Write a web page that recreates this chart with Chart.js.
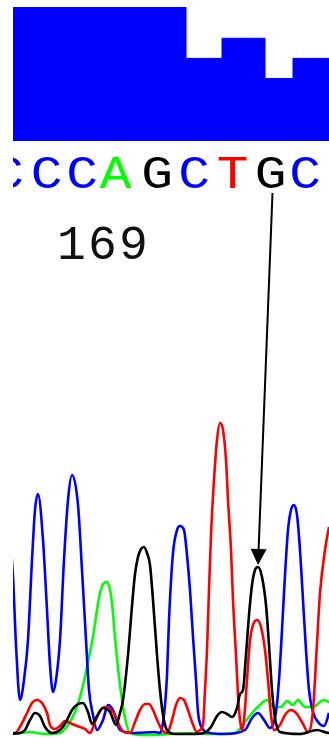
<!DOCTYPE html>
<html>
<head>
<meta charset="utf-8">
<script src="https://cdn.jsdelivr.net/npm/chart.js@4/dist/chart.umd.min.js"></script>
<style>
  html, body { margin: 0; padding: 0; background: #fff; }
  #wrap { position: relative; width: 329px; height: 738px; overflow: hidden; }
  #trace, #qual { position: absolute; left: 0; top: 0; }
</style>
</head>
<body>
<div id="wrap">
  <canvas id="trace" width="329" height="738"></canvas>
  <canvas id="qual" width="329" height="141"></canvas>
</div>
<script>
// base calls and where they sit on the scan axis
const baseCalls = ['C', 'C', 'C', 'A', 'G', 'C', 'T', 'G', 'C'];
const basePositions = [8, 46.5, 82, 115.5, 157, 194, 232.5, 270.5, 305];
const positionLabel = '169';
const positionLabelAt = 102.5;
const arrowBase = 7; // the G pointed at
const arrowPeakScan = 258;

// quality bars (step starts on the scan axis)
const qualStart = [13, 186, 222, 265, 293];
const qualValue = [60, 37, 46, 28, 37];
const scanEnd = 329;

// trace channels: scan position / signal
const scanA = [0, 20, 30, 45, 60, 68, 75, 80, 85, 89, 93, 97, 100, 104, 107, 110, 112, 115, 118, 122, 125, 130, 145, 170, 190, 210, 235, 245, 252, 260, 267, 274, 281, 287, 293, 298, 305, 313, 320, 324, 329, 335];
const sigA = [1, 3, 4, 2, 3, 11, 24, 39, 59, 79, 99, 126, 143, 153, 154, 146, 133, 99, 68, 36, 18, 3, 1, 2, 3, 2, 3, 14, 23, 31, 36, 29, 29, 35, 31, 36, 29, 29, 34, 36, 34, 34];

const scanC = [-15, -8, 2, 8, 13, 16, 20, 24, 28, 32, 35, 38, 43, 47, 50, 53, 56, 60, 64, 68, 72, 78, 82, 86, 89, 93, 97, 103, 108, 113, 120, 135, 155, 160, 164, 167, 169, 173, 177, 180, 184, 187, 190, 193, 196, 198, 202, 210, 225, 245, 252, 258, 264, 270, 276, 279, 282, 285, 288, 291, 294, 297, 300, 303, 306, 309, 313, 318, 324, 329, 335];
const sigC = [16, 116, 241, 216, 159, 91, 36, 56, 96, 176, 226, 242, 196, 126, 71, 44, 56, 96, 176, 236, 261, 231, 166, 96, 46, 21, 6, 16, 31, 26, 6, 3, 4, 3, 21, 61, 116, 183, 206, 210, 206, 181, 146, 99, 56, 24, 8, 3, 2, 6, 18, 23, 16, 8, 24, 56, 106, 161, 206, 226, 231, 221, 186, 136, 86, 46, 24, 14, 10, 23, 46];

const scanG = [0, 20, 25, 30, 35, 40, 45, 52, 60, 66, 72, 78, 83, 88, 92, 97, 103, 110, 116, 120, 123, 128, 132, 135, 138, 141, 144, 147, 150, 153, 157, 160, 163, 167, 175, 195, 204, 211, 217, 222, 227, 232, 237, 240, 243, 246, 249, 252, 255, 258, 262, 266, 269, 272, 275, 280, 300, 317, 329, 335];
const sigG = [2, 3, 6, 16, 23, 20, 9, 3, 6, 14, 26, 32, 33, 24, 12, 20, 28, 24, 11, 23, 36, 81, 130, 162, 179, 187, 189, 183, 171, 136, 81, 46, 21, 6, 2, 2, 3, 9, 20, 24, 22, 19, 28, 42, 46, 81, 121, 151, 166, 169, 159, 131, 91, 46, 18, 4, 2, 6, 3, 3];

const scanT = [0, 10, 15, 21, 27, 32, 37, 42, 47, 50, 55, 60, 65, 72, 80, 85, 90, 95, 100, 105, 110, 115, 120, 124, 130, 135, 140, 145, 149, 153, 158, 162, 167, 172, 176, 180, 184, 188, 192, 197, 200, 203, 205, 207, 209, 211, 214, 217, 220, 223, 226, 228, 231, 233, 236, 238, 240, 242, 244, 247, 250, 253, 257, 261, 265, 268, 271, 274, 280, 285, 291, 297, 303, 308, 313, 317, 320, 325, 329, 334];
const sigT = [2, 3, 3, 11, 23, 33, 36, 33, 23, 11, 7, 10, 15, 12, 9, 7, 3, 14, 25, 29, 27, 21, 9, 4, 3, 14, 26, 32, 32, 26, 14, 6, 3, 16, 31, 38, 36, 26, 14, 4, 6, 11, 46, 86, 146, 201, 256, 296, 313, 306, 276, 236, 186, 136, 81, 41, 16, 6, 16, 56, 96, 111, 116, 109, 86, 56, 21, 6, 11, 21, 26, 22, 12, 4, 26, 93, 143, 186, 209, 231];

const channelColors = { A: '#00ff00', C: '#0000ff', G: '#000000', T: '#ff0000' };

function toPoints(xs, ys) {
  return xs.map((x, i) => ({ x, y: ys[i] }));
}

function traceSet(base, xs, ys) {
  return {
    label: base,
    data: toPoints(xs, ys),
    borderColor: channelColors[base],
    borderWidth: 2.6,
    pointRadius: 0,
    fill: false,
    cubicInterpolationMode: 'monotone',
    clip: { left: 0, top: 5, right: 0, bottom: 2 },
  };
}

// letters, position number and arrow above the trace
const annotations = {
  id: 'annotations',
  afterDraw(chart) {
    const { ctx, scales } = chart;
    const x = scales.x;
    const y = scales.y;
    ctx.save();
    ctx.beginPath();
    ctx.rect(13, 0, 329 - 13, 738);
    ctx.clip();

    ctx.font = '46px "Liberation Mono", monospace';
    ctx.textAlign = 'center';
    ctx.textBaseline = 'alphabetic';
    baseCalls.forEach((b, i) => {
      ctx.save();
      ctx.translate(x.getPixelForValue(basePositions[i]), 188);
      ctx.scale(1.15, 1);
      ctx.fillStyle = channelColors[b];
      ctx.fillText(b, 0, 0);
      ctx.restore();
    });

    ctx.fillStyle = '#111';
    ctx.font = '48px "Liberation Mono", monospace';
    const cx = x.getPixelForValue(positionLabelAt);
    [...positionLabel].forEach((d, i) => {
      ctx.fillText(d, cx + (i - 1) * 31, 259);
    });

    // arrow from base letter to the peak
    const x0 = x.getPixelForValue(basePositions[arrowBase]) + 2;
    const y0 = 193;
    const peakIdx = scanG.indexOf(arrowPeakScan);
    const x1 = x.getPixelForValue(arrowPeakScan);
    const y1 = y.getPixelForValue(sigG[peakIdx]) - 2;
    const ang = Math.atan2(y1 - y0, x1 - x0);
    const len = 16, half = 8;
    const bx = x1 - Math.cos(ang) * len;
    const by = y1 - Math.sin(ang) * len;
    ctx.strokeStyle = '#000';
    ctx.lineWidth = 2;
    ctx.beginPath();
    ctx.moveTo(x0, y0);
    ctx.lineTo(bx, by);
    ctx.stroke();
    ctx.fillStyle = '#000';
    ctx.beginPath();
    ctx.moveTo(x1, y1);
    ctx.lineTo(bx - Math.sin(ang) * half, by + Math.cos(ang) * half);
    ctx.lineTo(bx + Math.sin(ang) * half, by - Math.cos(ang) * half);
    ctx.closePath();
    ctx.fill();
    ctx.restore();
  },
};

new Chart(document.getElementById('trace'), {
  type: 'line',
  data: {
    datasets: [
      traceSet('G', scanG, sigG),
      traceSet('T', scanT, sigT),
      traceSet('C', scanC, sigC),
      traceSet('A', scanA, sigA),
    ],
  },
  options: {
    responsive: false,
    animation: false,
    layout: { autoPadding: false, padding: { left: 13, top: 420, right: 0, bottom: 2 } },
    scales: {
      x: { type: 'linear', min: 13, max: scanEnd, display: false },
      y: { min: 0, max: 316, display: false },
    },
    plugins: { legend: { display: false }, tooltip: { enabled: false } },
  },
  plugins: [annotations],
});

const qualPoints = toPoints(qualStart, qualValue).concat([{ x: scanEnd, y: qualValue[qualValue.length - 1] }]);

new Chart(document.getElementById('qual'), {
  type: 'line',
  data: {
    datasets: [
      {
        label: 'quality',
        data: qualPoints,
        stepped: 'before',
        fill: 'origin',
        backgroundColor: '#0000ff',
        borderColor: '#0000ff',
        borderWidth: 1,
        pointRadius: 0,
      },
    ],
  },
  options: {
    responsive: false,
    animation: false,
    layout: { autoPadding: false, padding: { left: 13, top: 7, right: 0, bottom: 0 } },
    scales: {
      x: { type: 'linear', min: 13, max: scanEnd, display: false },
      y: { min: 0, max: 60, display: false },
    },
    plugins: { legend: { display: false }, tooltip: { enabled: false } },
  },
});
</script>
</body>
</html>
